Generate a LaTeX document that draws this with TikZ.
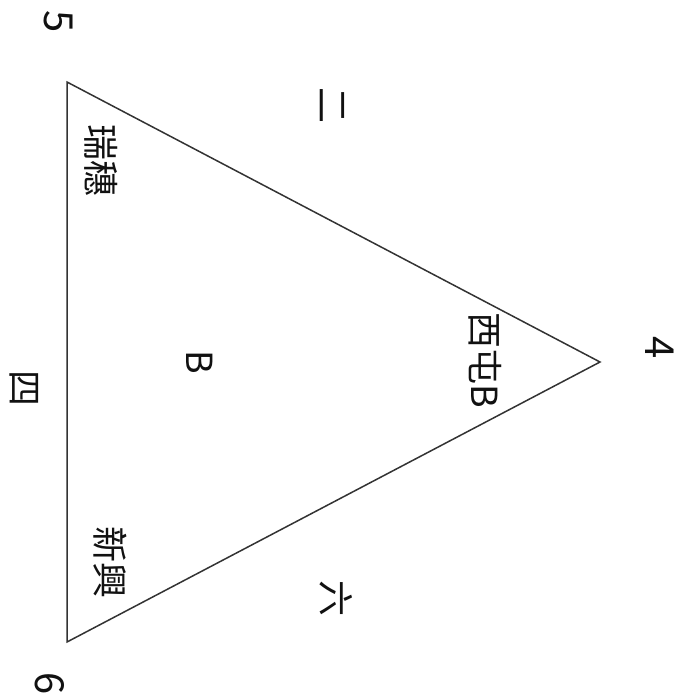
\documentclass[tikz,border=0pt]{standalone}
\usepackage{fontspec}
\setmainfont{Noto Sans CJK TC}
\usepackage{xcolor}
\usetikzlibrary{positioning}
\definecolor{trline}{HTML}{333333}
\definecolor{trtext}{HTML}{111111}
\tikzset{
  lbl/.style={rotate=-90,inner sep=0pt,text=trtext,font=\fontsize{36}{36}\selectfont},
  vlbl/.style={lbl,font=\fontsize{40}{40}\selectfont},
  edge/.style={draw=trline,line width=1.5pt,line join=miter},
}
\begin{document}
\begin{tikzpicture}[x=1pt,y=-1pt]
  \useasboundingbox (0,0) rectangle (692,697);
  % corners
  \coordinate (c5) at (67,82);
  \coordinate (c4) at (600,362);
  \coordinate (c6) at (67,642);
  \draw[edge] (c5) -- (c4) -- (c6) -- cycle;
  % corner numbers
  \node[vlbl] (n5) at (58,22) {5};
  \node[vlbl] (n4) at (660,348) {4};
  \node[vlbl] (n6) at (50,684) {6};
  % side numbers
  \node[lbl] (s2) at (332,105) {二};
  \node[lbl] (s4) at (24,388) {四};
  \node[lbl] (s6) at (336,598) {六};
  % areas
  \node[lbl] (a1) at (101,160) {瑞穗};
  \node[lbl] (a2) at (485,360) {西屯B};
  \node[lbl] (a3) at (110,562) {新興};
  \node[lbl] (mid) at (200,362) {B};
\end{tikzpicture}
\end{document}
